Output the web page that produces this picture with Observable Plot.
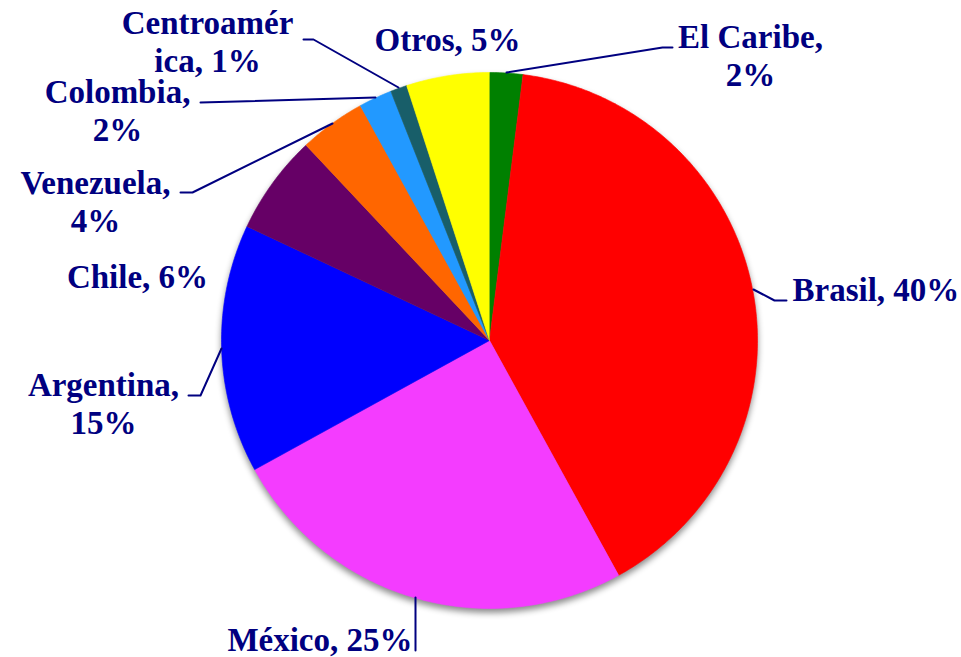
<!DOCTYPE html>
<html>
<head>
<meta charset="utf-8">
<script src="https://cdn.jsdelivr.net/npm/d3@7"></script>
<script src="https://cdn.jsdelivr.net/npm/@observablehq/plot@0.6"></script>
<style>
  html, body { margin: 0; padding: 0; background: #fff; }
</style>
</head>
<body>
<div id="chart"></div>
<script>
// ---- Data ----
const regions = ["El Caribe", "Brasil", "México", "Argentina", "Chile", "Venezuela", "Colombia", "Centroamérica", "Otros"];
const shares  = [2, 40, 25, 15, 6, 4, 2, 1, 5];
const colors  = ["#008000", "#FF0000", "#F43CFF", "#0000FF", "#660066", "#FF6600", "#2299FF", "#185E69", "#FFFF00"];
// label text lines per region (as displayed)
const labelLines = [
  ["El Caribe,", "2%"],
  ["Brasil, 40%"],
  ["México, 25%"],
  ["Argentina,", "15%"],
  ["Chile, 6%"],
  ["Venezuela,", "4%"],
  ["Colombia,", "2%"],
  ["Centroamér", "ica, 1%"],
  ["Otros, 5%"]
];

// ---- Layout (pixels) ----
const W = 961, H = 657;
const cx = 489, cy = 340, R = 268;
const lineH = 38.5;
const labelLayout = {
  "El Caribe":     {x: 750, y: 47,  anchor: "middle", leader: [[672, 47], [662, 47], [506, 72]]},
  "Brasil":        {x: 792, y: 300, anchor: "start",  leader: [[786, 300], [774, 300], [753, 289]]},
  "México":        {x: 412, y: 650, anchor: "end",    leader: [[415, 650], [415, 597]]},
  "Argentina":     {x: 103, y: 395, anchor: "middle", leader: [[188, 395], [200, 395], [221, 348]]},
  "Chile":         {x: 137, y: 287, anchor: "middle", leader: null},
  "Venezuela":     {x: 95,  y: 193, anchor: "middle", leader: [[180, 192], [192, 192], [332, 123]]},
  "Colombia":      {x: 117, y: 102, anchor: "middle", leader: [[200, 102], [375, 97]]},
  "Centroamérica": {x: 207, y: 33,  anchor: "middle", leader: [[303, 39], [313, 39], [398, 87]]},
  "Otros":         {x: 447, y: 50,  anchor: "middle", leader: null}
};

// ---- Build slices ----
const rows = regions.map((name, i) => ({name, value: shares[i]}));
const arcs = d3.pie().sort(null).value(d => d.value)(rows);
const slicePts = [];
for (const a of arcs) {
  const name = a.data.name;
  slicePts.push({name, px: cx, py: cy});
  const n = Math.max(8, Math.ceil((a.endAngle - a.startAngle) / 0.01));
  for (let k = 0; k <= n; k++) {
    const t = a.startAngle + (a.endAngle - a.startAngle) * k / n;
    slicePts.push({name, px: cx + R * Math.sin(t), py: cy - R * Math.cos(t)});
  }
}

const textRows = [];
const leaderPts = [];
regions.forEach((name, i) => {
  const L = labelLayout[name];
  labelLines[i].forEach((line, j) => {
    textRows.push({text: line, px: L.x, py: L.y + j * lineH, anchor: L.anchor});
  });
  if (L.leader) L.leader.forEach(p => leaderPts.push({name, px: p[0], py: p[1]}));
});

const navy = "#000080";
const font = "'Liberation Serif', 'Times New Roman', serif";

const chart = Plot.plot({
  width: W,
  height: H,
  margin: 0,
  x: {domain: [0, W], range: [0, W], axis: null},
  y: {domain: [0, H], range: [0, H], axis: null},
  color: {domain: regions, range: colors},
  style: {background: "#fff", fontFamily: font},
  marks: [
    Plot.line(slicePts, {x: "px", y: "py", z: "name", fill: "name", stroke: "name", strokeWidth: 0.6, curve: "linear"}),
    Plot.line(leaderPts, {x: "px", y: "py", z: "name", stroke: navy, strokeWidth: 2, curve: "linear"}),
    ...["start", "middle", "end"].map(anc =>
      Plot.text(textRows.filter(d => d.anchor === anc), {
        x: "px", y: "py", text: "text", textAnchor: anc, lineAnchor: "bottom",
        fill: navy, fontSize: 33, fontWeight: "bold", fontFamily: font
      })
    )
  ]
});
document.getElementById("chart").appendChild(chart);
// drop shadow on the pie
const g = chart.querySelector('g[aria-label="line"]');
if (g) g.style.filter = "drop-shadow(0px 4px 3px rgba(0,0,0,0.45))";
</script>
</body>
</html>
